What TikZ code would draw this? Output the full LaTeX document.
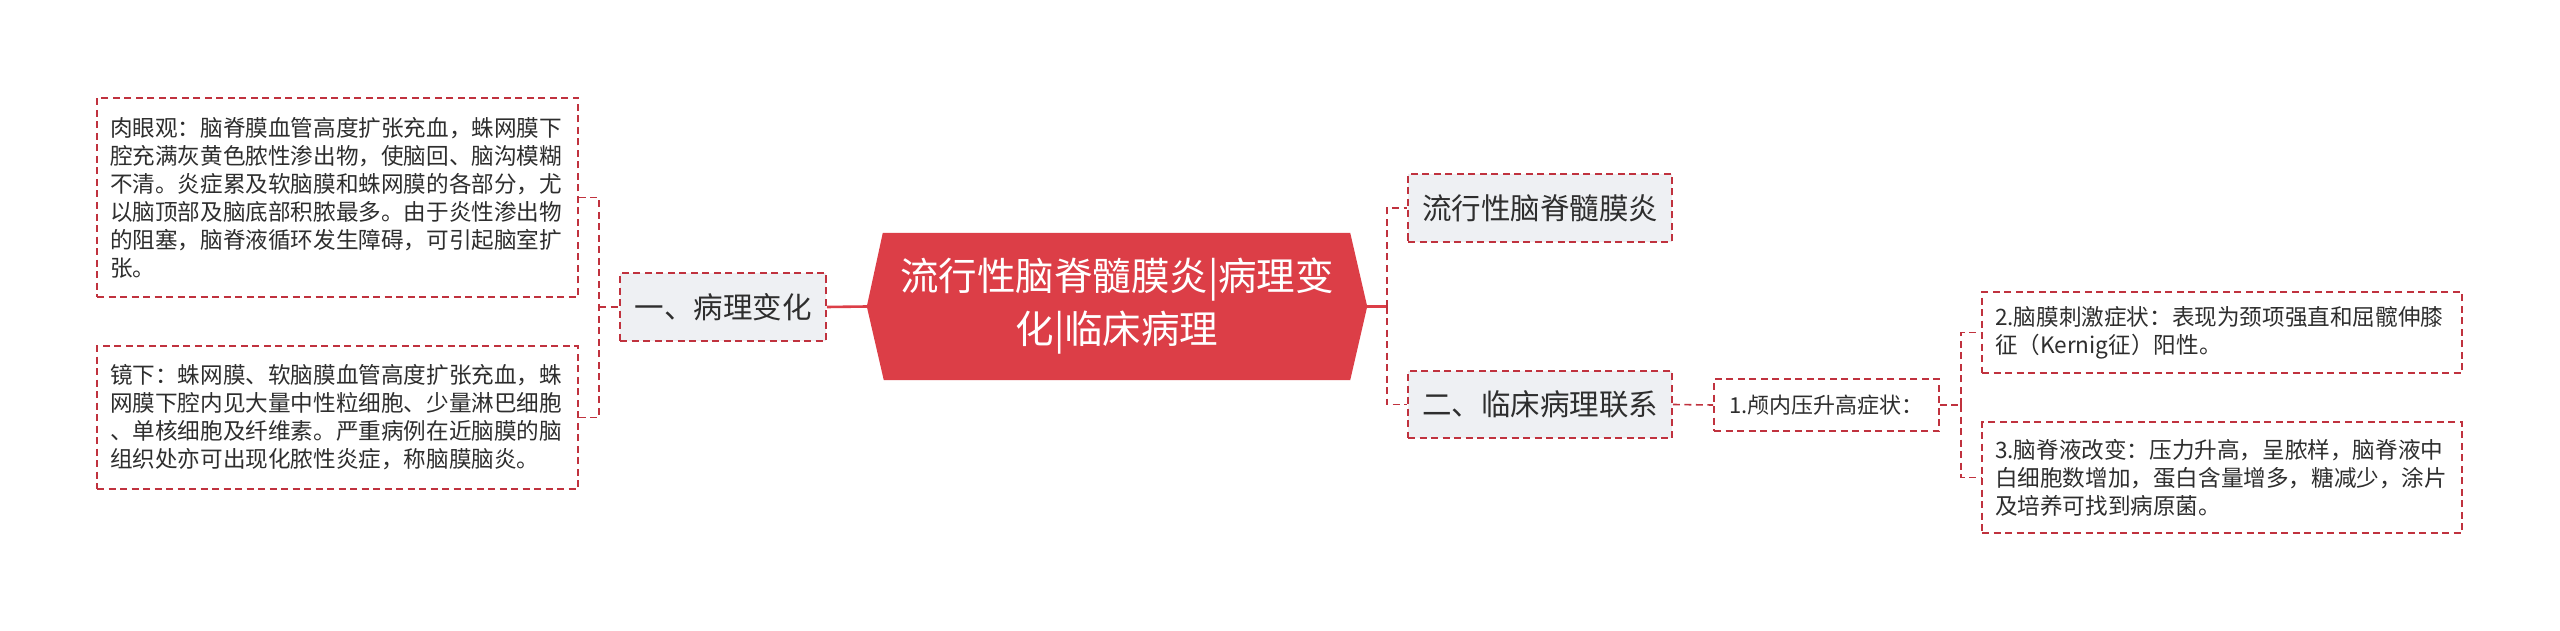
\documentclass[tikz,border=0pt]{standalone}
\usepackage{fontspec}
\setmainfont{Noto Sans CJK SC}
\usetikzlibrary{backgrounds}
\definecolor{rootred}{HTML}{DC3E47}
\definecolor{bordred}{HTML}{C0323E}
\definecolor{nodegray}{HTML}{EEF0F3}
\definecolor{txt}{HTML}{2E2E2E}
\begin{document}
\begin{tikzpicture}[x=1pt,y=-1pt,
  box/.style={draw=bordred, line width=1.6pt, dash pattern=on 7pt off 4.5pt, inner sep=0pt, text=txt},
  leafbox/.style={box, align=left, inner xsep=13pt, font=\fontsize{22.6pt}{28pt}\selectfont},
  midbox/.style={box, fill=nodegray, align=center, font=\fontsize{29.5pt}{34pt}\selectfont},
  smallbox/.style={box, align=center, font=\fontsize{22pt}{26pt}\selectfont},
  conn/.style={draw=bordred, line width=1.6pt, dash pattern=on 7pt off 4.5pt},
  rootconn/.style={draw=rootred, line width=2.6pt}
]
\useasboundingbox (0,0) rectangle (2560,631);

% root
\node[inner sep=0pt, minimum width=500pt, minimum height=147pt, text=white, align=center,
      font=\fontsize{38.5pt}{53pt}\selectfont] (root) at (1117,306.5)
  {流行性脑脊髓膜炎|病理变\\化|临床病理};
\begin{scope}[on background layer]
\fill[white] (0,0) rectangle (2560,631);
\fill[rootred] (root.west) -- ([xshift=16pt]root.north west) -- ([xshift=-17pt]root.north east)
  -- (root.east) -- ([xshift=-17pt]root.south east) -- ([xshift=17pt]root.south west) -- cycle;
\end{scope}

% left side
\node[leafbox, text width=455pt, minimum height=199pt] (b1) at (337.5,197.5)
  {肉眼观：脑脊膜血管高度扩张充血，蛛网膜下\\腔充满灰黄色脓性渗出物，使脑回、脑沟模糊\\不清。炎症累及软脑膜和蛛网膜的各部分，尤\\以脑顶部及脑底部积脓最多。由于炎性渗出物\\的阻塞，脑脊液循环发生障碍，可引起脑室扩\\张。};
\node[leafbox, text width=455pt, minimum height=143pt] (b2) at (337.5,417.5)
  {镜下：蛛网膜、软脑膜血管高度扩张充血，蛛\\网膜下腔内见大量中性粒细胞、少量淋巴细胞\\、单核细胞及纤维素。严重病例在近脑膜的脑\\组织处亦可出现化脓性炎症，称脑膜脑炎。};
\node[midbox, minimum width=206pt, minimum height=68pt] (l1) at (723,307) {一、病理变化};
\coordinate (lb) at (599,307);

% right side
\node[midbox, minimum width=264pt, minimum height=68pt] (n1) at (1540,208) {流行性脑脊髓膜炎};
\node[midbox, minimum width=264pt, minimum height=67pt] (n2) at (1540,404.5) {二、临床病理联系};
\coordinate (rb) at (1387,306.5);
\node[smallbox, minimum width=225pt, minimum height=52pt] (m1) at (1826.5,405) {1.颅内压升高症状：};
\coordinate (mb) at (1961,405);
\node[leafbox, text width=454pt, minimum height=81pt] (r2) at (2222,332.5)
  {2.脑膜刺激症状：表现为颈项强直和屈髋伸膝\\征（Kernig征）阳性。};
\node[leafbox, text width=454pt, minimum height=111pt] (r3) at (2222,477.5)
  {3.脑脊液改变：压力升高，呈脓样，脑脊液中\\白细胞数增加，蛋白含量增多，糖减少，涂片\\及培养可找到病原菌。};

% connectors
\draw[rootconn] (l1.east) -- (root.west);
\draw[conn] (b1.east) -| (lb);
\draw[conn] (b2.east) -| (lb);
\draw[conn] (lb) -- (l1.west);

\draw[rootconn] (root.east) -- (rb);
\draw[conn] (rb) |- (n1.west);
\draw[conn] (rb) |- (n2.west);
\draw[conn] (n2.east) -- (m1.west);
\draw[conn] (m1.east) -- (mb);
\draw[conn] (mb) |- (r2.west);
\draw[conn] (mb) |- (r3.west);
\end{tikzpicture}
\end{document}
